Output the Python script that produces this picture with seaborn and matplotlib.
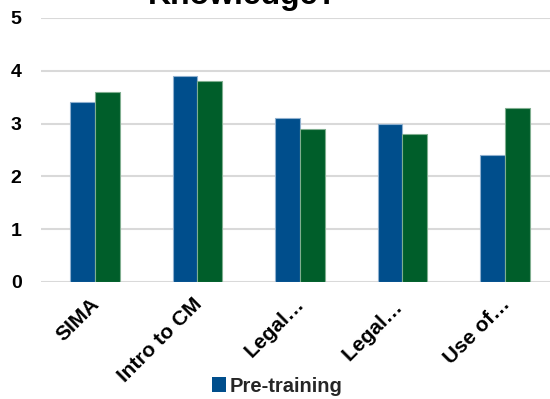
import matplotlib
matplotlib.use("Agg")
import matplotlib.pyplot as plt
from matplotlib.patches import Patch
from matplotlib.transforms import ScaledTranslation
import pandas as pd
import seaborn as sns

# Average self-rated knowledge per module, before and after training
modules = ["SIMA", "Intro to CM", "Legal…", "Legal… ", "Use of…"]
pre_training = [3.4, 3.9, 3.1, 3.0, 2.4]
post_training = [3.6, 3.8, 2.9, 2.8, 3.3]
periods = ["Pre-training", "Post-training"]
y_ticks = [0, 1, 2, 3, 4, 5]

blue = "#004E8C"
green = "#005E2A"

df = pd.DataFrame({
    "Module": modules * 2,
    "Period": [periods[0]] * len(modules) + [periods[1]] * len(modules),
    "Score": pre_training + post_training,
})

sns.set_theme(style="white")
plt.rcParams["font.family"] = ["Liberation Sans", "DejaVu Sans"]
plt.rcParams["font.weight"] = "bold"

fig = plt.figure(figsize=(5.5, 3.99), dpi=100)
ax = fig.add_axes([41 / 550, 1 - 282 / 399, 509 / 550, (282 - 18) / 399])

sns.barplot(data=df, x="Module", y="Score", hue="Period", order=modules,
            hue_order=periods, palette=[blue, green], width=0.48,
            saturation=1, ax=ax, legend=False, zorder=3)

for bar_patch, edge in zip(ax.patches, ["#8fb0cf"] * 5 + ["#7fae8f"] * 5):
    bar_patch.set_edgecolor(edge)
    bar_patch.set_linewidth(0.8)

ax.set_ylim(0, 5)
ax.set_xlim(-0.527, 4.44)
ax.set_yticks(y_ticks)
ax.yaxis.grid(True, color="#d9d9d9", linewidth=1.5, zorder=0)
ax.set_axisbelow(True)
for s in ax.spines.values():
    s.set_visible(False)
ax.set_xlabel("")
ax.set_ylabel("")
ax.tick_params(axis="both", length=0)
ax.tick_params(axis="y", pad=14, labelsize=14, labelcolor="black")
ax.tick_params(axis="x", pad=9, labelsize=15, labelcolor="black")
for lbl in ax.get_yticklabels():
    lbl.set_fontweight("bold")
shift_left = ScaledTranslation(-5 / 100, 0, fig.dpi_scale_trans)
for lbl in ax.get_xticklabels():
    lbl.set_fontweight("bold")
    lbl.set_rotation(45)
    lbl.set_ha("right")
    lbl.set_va("top")
    lbl.set_rotation_mode("anchor")
    lbl.set_transform(lbl.get_transform() + shift_left)

fig.text(243 / 550, 1 - 4 / 399, "Knowledge?", ha="center", va="baseline",
         fontsize=23, fontweight="bold", color="black")

fig.legend(handles=[Patch(facecolor=blue, edgecolor="none", label=periods[0])],
           loc="center", bbox_to_anchor=(277 / 550, 1 - 386 / 399),
           frameon=False, prop={"size": 14.5, "weight": "bold"},
           handlelength=0.7, handleheight=0.7, handletextpad=0.2)

fig.savefig("out.png", dpi=100)
